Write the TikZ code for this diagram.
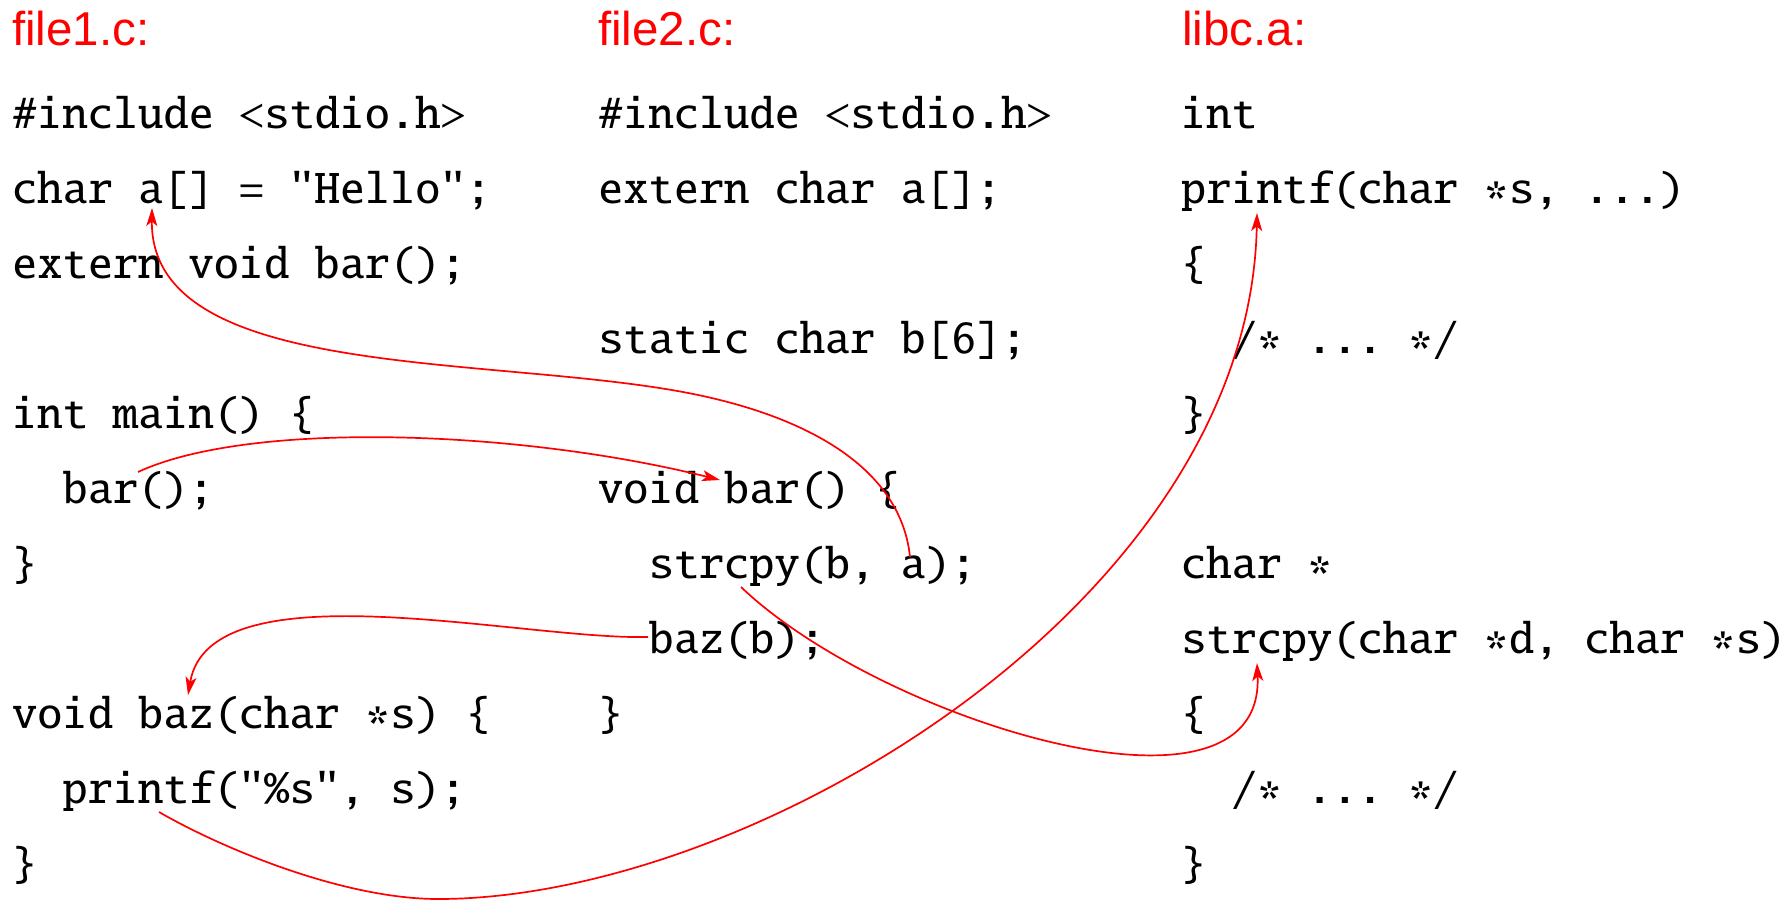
\documentclass[tikz,border=0pt]{standalone}
\usepackage[T1]{fontenc}
\usepackage{fontspec}
\newfontfamily\titlefont{Liberation Sans}
\usetikzlibrary{arrows.meta,calc}
% Times-style typewriter face for the listings
\newcommand\codefont{\fontencoding{T1}\fontfamily{txtt}\selectfont\frenchspacing}
% asterisk lowered onto the middle of the lowercase letters
\newcommand\cstar{\raisebox{-0.21em}{*}}

\begin{document}
\begin{tikzpicture}[x=1pt,y=-1pt,
  code/.style={anchor=base west,inner sep=0pt,
    font=\fontsize{48}{50}\codefont},
  title/.style={anchor=base west,inner sep=0pt,text=red,
    font=\titlefont\fontsize{47.5}{50}\selectfont},
  link/.style={draw=red,line width=1.7pt,
    -{Stealth[length=18pt,width=11pt,inset=4.5pt]}}]
\useasboundingbox (0,0) rectangle (1784,902);

% column headers
\node[title] (t1) at (12,45)   {file1.c:};
\node[title] (t2) at (598,45)  {file2.c:};
\node[title] (t3) at (1182,45) {libc.a:};

% file1.c
\node[code] (a0)  at (12,128) {\#include <stdio.h>};
\node[code] (a1)  at (12,203) {char a[] = "Hello";};
\node[code] (a2)  at (12,278) {extern void bar();};
\node[code] (a4)  at (12,428) {int main() \{};
\node[code] (a5)  at (12,503) {\ \ bar();};
\node[code] (a6)  at (12,578) {\}};
\node[code] (a8)  at (12,728) {void baz(char \cstar s) \{};
\node[code] (a9)  at (12,803) {\ \ printf("\%s", s);};
\node[code] (a10) at (12,878) {\}};

% file2.c
\node[code] (b0) at (598,128) {\#include <stdio.h>};
\node[code] (b1) at (598,203) {extern char a[];};
\node[code] (b3) at (598,353) {static char b[6];};
\node[code] (b5) at (598,503) {void bar() \{};
\node[code] (b6) at (598,578) {\ \ strcpy(b, a);};
\node[code] (b7) at (598,653) {\ \ baz(b);};
\node[code] (b8) at (598,728) {\}};

% libc.a
\node[code] (c0)  at (1181,128) {int};
\node[code] (c1)  at (1181,203) {printf(char \cstar s, ...)};
\node[code] (c2)  at (1181,278) {\{};
\node[code] (c3)  at (1181,353) {\ \ /\cstar{} ... \cstar/};
\node[code] (c4)  at (1181,428) {\}};
\node[code] (c6)  at (1181,578) {char \cstar};
\node[code] (c7)  at (1181,653) {strcpy(char \cstar d, char \cstar s)};
\node[code] (c8)  at (1181,728) {\{};
\node[code] (c9)  at (1181,803) {\ \ /\cstar{} ... \cstar/};
\node[code] (c10) at (1181,878) {\}};

% ends of the reference arrows
\coordinate (useA)      at (910,557);
\coordinate (defA)      at (152,208);
\coordinate (midA)      at (683,392);
\coordinate (callBar)   at (138,472);
\coordinate (defBar)    at (720,480);
\coordinate (callBaz)   at (648,637);
\coordinate (defBaz)    at (188,695);
\coordinate (callCpy)   at (741,587);
\coordinate (defCpy)    at (1257,663);
\coordinate (callPrt)   at (159,812);
\coordinate (lowPrt)    at (438,899);
\coordinate (defPrt)    at (1257,213);

% references resolved across files
\draw[link] (useA) .. controls (900,460) and (791,412) .. (midA)
                   .. controls (483,355) and (150,380) .. (defA);
\draw[link] (callBar) .. controls (250,420) and (520,430) .. (defBar);
\draw[link] (callBaz) .. controls (520,640) and (210,565) .. (defBaz);
\draw[link] (callCpy) .. controls (880,720) and (1265,840) .. (defCpy);
\draw[link] (callPrt) .. controls (225,850) and (345,899) .. (lowPrt)
                      .. controls (755,899) and (1250,600) .. (defPrt);
\end{tikzpicture}
\end{document}
